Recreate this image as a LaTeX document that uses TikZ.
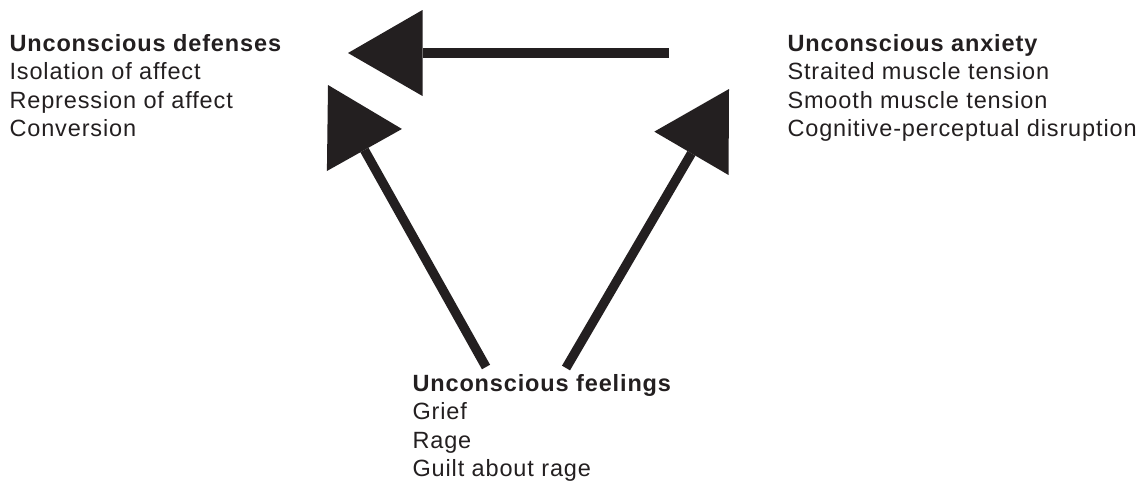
\documentclass[tikz,border=0pt]{standalone}
\usepackage{fontspec}
\setmainfont{Liberation Sans}[LetterSpace=3.7]
\usetikzlibrary{arrows.meta}
\definecolor{ink}{HTML}{231F20}
\begin{document}
\begin{tikzpicture}[x=1pt,y=-1pt,
  lbl/.style={inner sep=0pt, anchor=base west, text=ink, font=\fontsize{23.5}{28.6}\selectfont},
  conn/.style={draw=ink, line width=9.3pt, -{Triangle[length=74.5pt,width=86pt,line width=0pt]}}]
\useasboundingbox (0,0) rectangle (1140,482);
\node[lbl] (def) at (9.3,51) {\begin{tabular}[t]{@{}l@{}}\textbf{Unconscious defenses}\\Isolation of affect\\Repression of affect\\Conversion\end{tabular}};
\node[lbl] (anx) at (787.3,51) {\begin{tabular}[t]{@{}l@{}}\textbf{Unconscious anxiety}\\Straited muscle tension\\Smooth muscle tension\\Cognitive-perceptual disruption\end{tabular}};
\node[lbl] (feel) at (412.3,391) {\begin{tabular}[t]{@{}l@{}}\textbf{Unconscious feelings}\\Grief\\Rage\\Guilt about rage\end{tabular}};
\coordinate (a0) at (669,53);
\coordinate (a1) at (348,53);
\coordinate (l0) at (486,367);
\coordinate (l1) at (328,85);
\coordinate (r0) at (566,368);
\coordinate (r1) at (729,89);
\draw[conn] (a0) -- (a1);
\draw[conn] (l0) -- (l1);
\draw[conn] (r0) -- (r1);
\end{tikzpicture}
\end{document}
